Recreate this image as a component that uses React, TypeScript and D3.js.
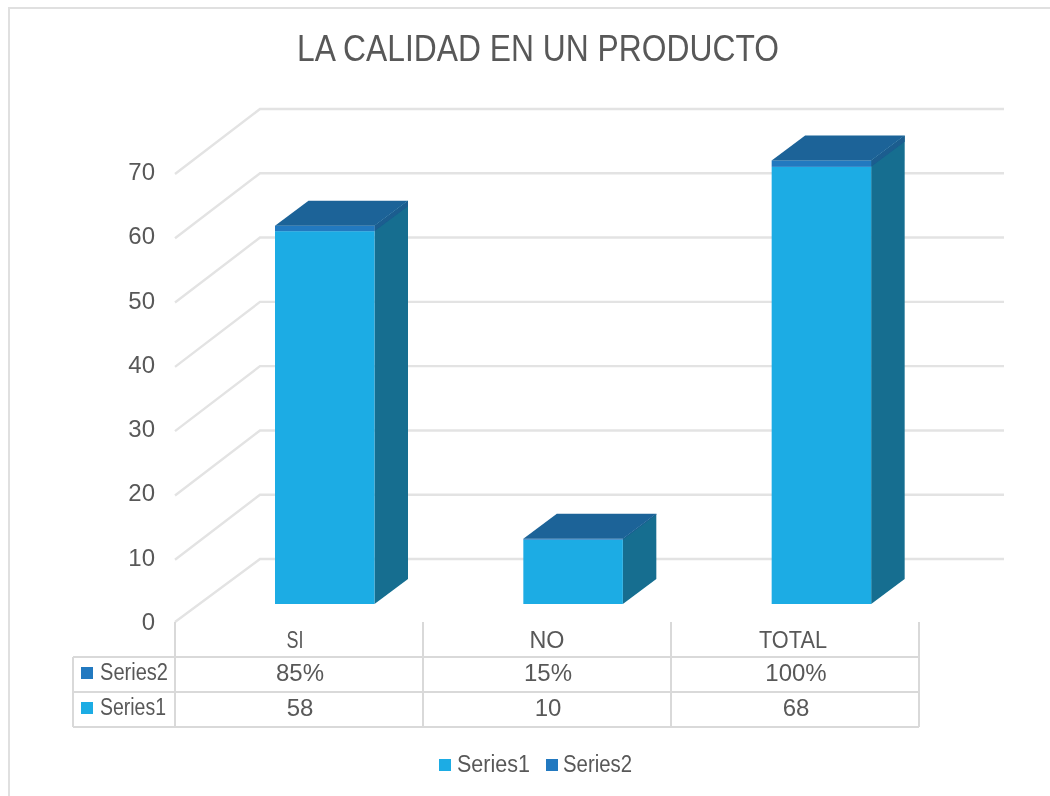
import React from "react";
import * as d3 from "d3";

const categories = ["SI", "NO", "TOTAL"];
const series1 = [58, 10, 68];
const series2 = [0.85, 0.15, 1];
const series2Labels = ["85%", "15%", "100%"];
const ticks = [0, 10, 20, 30, 40, 50, 60, 70];
const title = "LA CALIDAD EN UN PRODUCTO";
const seriesNames = ["Series1", "Series2"];
const catNudge = [-4, 0, -2];
const catWidths = [17, 35, 68];

const W = 1050, H = 796;
const FONT = "'Liberation Sans', Arial, sans-serif";
const TXT = "#595959";
const GRID = "#e3e3e3";
const C1 = "#1cace4", C2 = "#2179c0", TOPC = "#1b6398", SIDE = "#136e90", SIDE2 = "#1a5d8f";

const y = d3.scaleLinear().domain([0, 70]).range([624, 174]);
const depthX = 85, depthY = -65;
const barDX = 33.5, barDY = -25;
const barBase = 604;
const barW = 99.5;
const h = d3.scaleLinear().domain([0, 70]).range([0, 450]);
const x = d3.scaleBand().domain(categories).range([175, 919]);
const xBar = d3.scaleBand().domain(categories).range([175, 920]);
const rowLines = [657, 692, 727];

export default function App() {
  const wallRight = 1004;
  return (
    <svg width={W} height={H} viewBox={`0 0 ${W} ${H}`} style={{ position: "absolute", left: 0, top: 0, background: "#fff" }} fontFamily={FONT}>
      <defs>
        <filter id="soft" x="-5%" y="-5%" width="110%" height="110%"><feGaussianBlur stdDeviation="0.45" /></filter>
      </defs>
      <path d={`M9,${H}V8H${W}`} fill="none" stroke="#e0e0e0" strokeWidth={2} />
      <g filter="url(#soft)">
        <text x={538} y={61} textAnchor="middle" fontSize={36.5} fill={TXT} textLength={482} lengthAdjust="spacingAndGlyphs">{title}</text>
        {ticks.map((t) => (
          <g key={t}>
            <polyline points={`${x.range()[0]},${t === 0 ? 622 : y(t)} ${x.range()[0] + depthX},${y(t) + depthY} ${wallRight},${y(t) + depthY}`} fill="none" stroke={GRID} strokeWidth={2.4} />
            <text x={155} y={y(t) + 6} textAnchor="end" fontSize={24} fill={TXT}>{t}</text>
          </g>
        ))}
        {categories.map((c, i) => {
          const left = xBar(c)! + 100, right = left + barW;
          const top1 = barBase - h(series1[i]);
          const top2 = top1 - h(series2[i]);
          return (
            <g key={c}>
              <path d={`M${right},${barBase}L${right + barDX},${barBase + barDY}L${right + barDX},${top2 + barDY}L${right},${top2}Z`} fill={SIDE} />
              <path d={`M${right},${top2}L${right + barDX},${top2 + barDY}L${right + barDX},${top1 + barDY}L${right},${top1}Z`} fill={SIDE2} />
              <rect x={left} y={top1} width={barW} height={barBase - top1} fill={C1} />
              <rect x={left} y={top2} width={barW} height={top1 - top2} fill={C2} />
              <path d={`M${left},${top2}L${left + barDX},${top2 + barDY}L${right + barDX},${top2 + barDY}L${right},${top2}Z`} fill={TOPC} />
            </g>
          );
        })}
        <g stroke="#d9d9d9" strokeWidth={2} fill="none">
          {rowLines.map((ly) => <line key={ly} x1={73} x2={919} y1={ly} y2={ly} />)}
          <line x1={73} x2={73} y1={rowLines[0]} y2={rowLines[2]} />
          {[0, 1, 2, 3].map((k) => <line key={k} x1={175 + (k * 744) / 3} x2={175 + (k * 744) / 3} y1={622} y2={rowLines[2]} />)}
        </g>
        {categories.map((c, i) => {
          const cx = x(c)! + x.bandwidth() / 2;
          return (
            <g key={c} fill={TXT} textAnchor="middle">
              <text x={cx + catNudge[i]} y={648} fontSize={23.5} textLength={catWidths[i]} lengthAdjust="spacingAndGlyphs">{c}</text>
              <text x={cx + 1} y={681} fontSize={24}>{series2Labels[i]}</text>
              <text x={cx + 1} y={716} fontSize={24}>{series1[i]}</text>
            </g>
          );
        })}
        <rect x={81} y={667} width={12} height={12} fill={C2} />
        <text x={100} y={680} fontSize={23.5} fill={TXT} textLength={68} lengthAdjust="spacingAndGlyphs">{seriesNames[1]}</text>
        <rect x={81} y={702} width={12} height={12} fill={C1} />
        <text x={100} y={715} fontSize={23.5} fill={TXT} textLength={66} lengthAdjust="spacingAndGlyphs">{seriesNames[0]}</text>
        <rect x={439} y={759} width={12} height={12} fill={C1} />
        <text x={457} y={772} fontSize={23.5} fill={TXT} textLength={73} lengthAdjust="spacingAndGlyphs">{seriesNames[0]}</text>
        <rect x={546} y={759} width={12} height={12} fill={C2} />
        <text x={563} y={772} fontSize={23.5} fill={TXT} textLength={69} lengthAdjust="spacingAndGlyphs">{seriesNames[1]}</text>
      </g>
    </svg>
  );
}
